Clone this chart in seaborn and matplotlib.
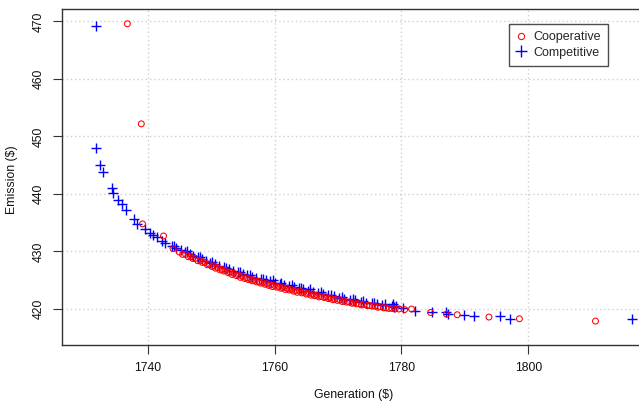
import matplotlib
matplotlib.use("Agg")
import matplotlib.pyplot as plt
from matplotlib.lines import Line2D
import seaborn as sns
import pandas as pd

# Cooperative (red circles)
coop_gen = [1736.8, 1739.0, 1739.2, 1742.5, 1744.0, 1745.0, 1746.0, 1746.8, 1747.5, 1748.3,
            1749.0, 1749.7, 1750.4, 1751.0, 1751.7, 1752.3, 1753.0, 1753.6, 1754.3, 1754.9,
            1755.6, 1756.2, 1756.8, 1757.5, 1758.1, 1758.8, 1759.4, 1760.0, 1760.7, 1761.3,
            1762.0, 1762.6, 1763.3, 1764.0, 1764.6, 1765.3, 1766.0, 1766.7, 1767.4, 1768.1,
            1768.8, 1769.5, 1770.3, 1771.0, 1771.8, 1772.5, 1773.3, 1774.1, 1775.0, 1775.8,
            1776.7, 1777.6, 1778.5, 1779.6, 1781.6, 1784.6, 1787.1, 1788.8, 1793.8, 1798.6,
            1810.6,
            1745.5, 1746.4, 1747.1, 1747.9, 1748.6, 1749.4, 1750.1, 1750.7, 1751.4, 1752.0,
            1752.7, 1753.3, 1754.0, 1754.6, 1755.3, 1755.9, 1756.5, 1757.2, 1757.8, 1758.5,
            1759.1, 1759.7, 1760.4, 1761.0, 1761.7, 1762.3, 1763.0, 1763.6, 1764.3, 1765.0,
            1765.7, 1766.3, 1767.0, 1767.8, 1768.5, 1769.2, 1769.9, 1770.7, 1771.4, 1772.2,
            1772.9, 1773.7, 1774.6, 1775.4, 1776.3, 1777.2, 1778.0, 1779.0, 1780.5]
coop_emi = [469.6, 452.2, 434.8, 432.7, 430.5, 429.9, 429.5, 429.1, 428.8, 428.4,
            428.1, 427.8, 427.5, 427.2, 426.9, 426.7, 426.4, 426.2, 425.9, 425.7,
            425.4, 425.2, 425.0, 424.8, 424.6, 424.4, 424.2, 424.1, 423.9, 423.7,
            423.6, 423.4, 423.2, 423.1, 422.9, 422.7, 422.6, 422.4, 422.2, 422.1,
            421.9, 421.7, 421.6, 421.4, 421.2, 421.1, 420.9, 420.8, 420.6, 420.5,
            420.4, 420.2, 420.1, 420.0, 420.0, 419.4, 419.1, 419.0, 418.6, 418.3,
            417.9,
            429.5, 429.1, 428.8, 428.4, 428.1, 427.7, 427.4, 427.1, 426.8, 426.6,
            426.3, 426.0, 425.8, 425.5, 425.3, 425.1, 424.9, 424.7, 424.5, 424.3,
            424.1, 423.9, 423.8, 423.6, 423.4, 423.3, 423.1, 422.9, 422.8, 422.6,
            422.4, 422.3, 422.1, 422.0, 421.8, 421.6, 421.5, 421.3, 421.2, 421.0,
            420.9, 420.7, 420.6, 420.5, 420.3, 420.2, 420.1, 420.0, 419.9]

# Competitive (blue pluses)
comp_gen = [1731.9, 1731.9, 1732.5, 1733.0, 1734.4, 1734.6, 1735.3, 1736.0, 1736.6, 1737.8,
            1738.3, 1739.6, 1740.4, 1740.9, 1741.4, 1742.2, 1742.8, 1743.8, 1744.5, 1745.3,
            1745.9, 1746.6, 1747.2, 1747.9, 1748.6, 1749.2, 1749.9, 1750.6, 1751.3, 1752.0,
            1752.8, 1753.5, 1754.2, 1755.0, 1755.7, 1756.5, 1757.1, 1757.8, 1758.6, 1759.3,
            1760.1, 1760.8, 1761.5, 1762.3, 1763.0, 1763.8, 1764.5, 1765.3, 1766.0, 1766.9,
            1767.7, 1768.5, 1769.3, 1770.2, 1771.0, 1771.9, 1772.7, 1773.6, 1774.4, 1775.3,
            1776.2, 1777.0, 1778.5, 1778.8, 1779.2, 1780.3, 1782.1, 1784.8, 1787.1, 1787.3,
            1789.8, 1791.4, 1795.6, 1797.1, 1816.3,
            1744.1, 1746.2, 1748.2, 1750.2, 1752.4, 1754.6, 1756.1, 1758.2, 1759.7, 1761.1,
            1762.7, 1764.1, 1765.6, 1767.3, 1768.9, 1770.6, 1772.3, 1774.0, 1775.7, 1777.4,
            1778.7]
comp_emi = [469.2, 448.0, 445.0, 443.8, 441.0, 440.2, 439.0, 438.3, 437.2, 435.6,
            434.7, 433.9, 433.3, 432.9, 432.6, 431.9, 431.5, 430.9, 430.6, 430.3,
            429.9, 429.6, 429.3, 429.0, 428.7, 428.3, 428.0, 427.8, 427.5, 427.3,
            426.9, 426.6, 426.4, 426.1, 425.9, 425.6, 425.4, 425.3, 425.0, 424.8,
            424.6, 424.4, 424.2, 424.0, 423.8, 423.6, 423.4, 423.2, 423.0, 422.8,
            422.6, 422.4, 422.2, 422.0, 421.8, 421.6, 421.5, 421.3, 421.1, 421.0,
            420.8, 420.7, 420.6, 420.3, 420.5, 420.1, 419.7, 419.5, 419.4, 419.1,
            418.9, 418.8, 418.7, 418.3, 418.3,
            430.9, 430.0, 429.0, 428.1, 427.2, 426.4, 425.9, 425.3, 425.0, 424.5,
            424.1, 423.7, 423.4, 422.9, 422.5, 422.1, 421.8, 421.4, 421.1, 420.8,
            420.9]

x_ticks = [1740, 1760, 1780, 1800]
y_ticks = [420, 430, 440, 450, 460, 470]

coop = pd.DataFrame({"Generation": coop_gen, "Emission": coop_emi})
comp = pd.DataFrame({"Generation": comp_gen, "Emission": comp_emi})

sns.set_style("white")
plt.rcParams["font.family"] = ["Liberation Sans", "DejaVu Sans"]

W, H = 639, 403
fig = plt.figure(figsize=(W / 100, H / 100), dpi=100)
left, right, top, bottom = 62, 645, 9, 345
ax = fig.add_axes([left / W, 1 - bottom / H, (right - left) / W, (bottom - top) / H])

# grid
for xv in x_ticks:
    ax.axvline(xv, color="#cfcfcf", linestyle=(0, (1, 2)), linewidth=1.0, zorder=0)
for yv in y_ticks:
    ax.axhline(yv, color="#cfcfcf", linestyle=(0, (1, 2)), linewidth=1.0, zorder=0)

sns.scatterplot(data=comp, x="Generation", y="Emission", marker="+", color="blue",
                s=50, linewidth=1.0, ax=ax, zorder=3, legend=False)
sns.scatterplot(data=coop, x="Generation", y="Emission", marker="o", facecolors="none",
                edgecolors="red", s=18, linewidth=0.75, ax=ax, zorder=4, legend=False)

ax.set_xlim(1726.5, 1818.4)
ax.set_ylim(413.74, 472.17)
ax.set_xticks(x_ticks)
ax.set_yticks(y_ticks)
ax.set_xticklabels([str(v) for v in x_ticks], fontsize=8.8)
ax.set_yticklabels([str(v) for v in y_ticks], fontsize=8.8, rotation=90, va="center")
ax.tick_params(axis="both", direction="out", length=6.5, width=0.8, color="#333333",
               pad=6, labelcolor="#111111")
ax.tick_params(axis="x", bottom=True)
ax.tick_params(axis="y", left=True)
for sp in ax.spines.values():
    sp.set_color("#333333")
    sp.set_linewidth(1.0)

ax.set_xlabel("")
ax.set_ylabel("")
fig.text(354 / W, 1 - 395 / H, "Generation ($)", ha="center", va="center", fontsize=8.8, color="#111111")
fig.text(12 / W, 1 - 180 / H, "Emission ($)", ha="center", va="center", rotation=90, fontsize=8.8, color="#111111")

handles = [Line2D([], [], marker="o", linestyle="none", markerfacecolor="none",
                  markeredgecolor="red", markersize=4.5, markeredgewidth=0.75),
           Line2D([], [], marker="+", linestyle="none", color="blue", markersize=8,
                  markeredgewidth=1.0)]
leg = ax.legend(handles, ["Cooperative", "Competitive"], loc="upper left",
                bbox_to_anchor=(509 / W, 1 - 24 / H), bbox_transform=fig.transFigure,
                frameon=True, fancybox=False, fontsize=9.0, handlelength=0.8,
                handletextpad=0.6, borderpad=0.55, labelspacing=0.3, borderaxespad=0)
leg.get_frame().set_edgecolor("#222222")
leg.get_frame().set_linewidth(1.0)

fig.savefig("out.png", dpi=100)
